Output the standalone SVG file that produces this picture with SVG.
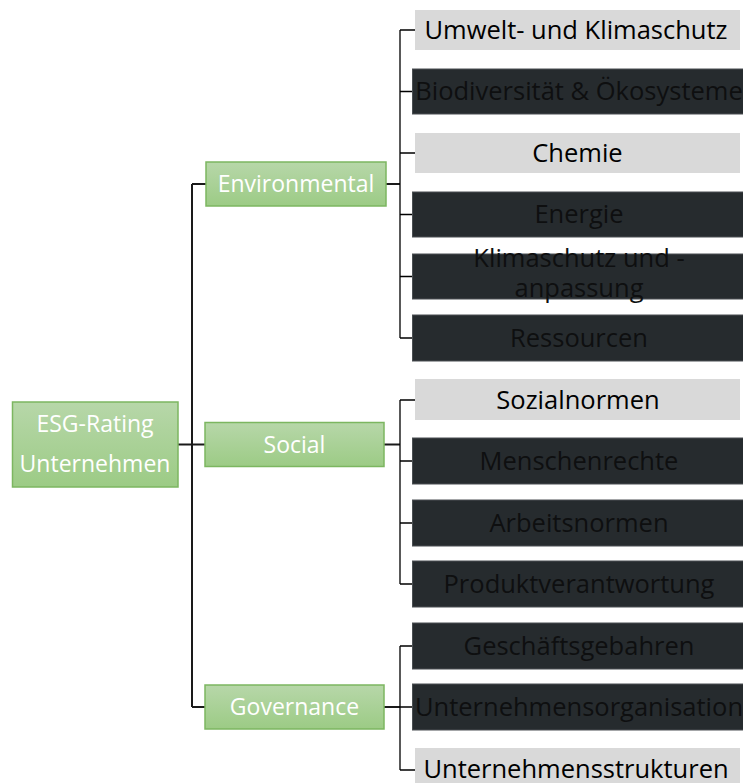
<svg xmlns="http://www.w3.org/2000/svg" width="743" height="783" viewBox="0 0 743 783">
<defs>
<linearGradient id="g" x1="0" y1="0" x2="0" y2="1">
<stop offset="0" stop-color="#b7d7a9"/>
<stop offset="1" stop-color="#9ccb85"/>
</linearGradient>
<style>
.grn{fill:url(#g);stroke:#7cb660;stroke-width:1.5}
.gt{font-family:"Open Sans","Noto Sans",sans-serif;font-size:23px;fill:#fff;text-anchor:middle}
.lt{fill:#d9d9d9}
.dk{fill:#262b2e;stroke:#4a4f52;stroke-width:1}
.ct{font-family:"Open Sans","Noto Sans",sans-serif;font-size:25.5px;fill:#000;text-anchor:middle}
.dt{fill:#0e0f10}
.ln{fill:none;stroke:#000;stroke-width:1.3}
.ln2{fill:none;stroke:#1a1a1a;stroke-width:2}
</style>
</defs>
<rect width="743" height="783" fill="#fff"/>
<g id="connectors">
<path class="ln2" d="M178 444.5H192M192 184V707M192 184H206M192 444.5H205M192 707H205"/>
<path class="ln2" d="M386 184H400M384 444.5H400M384 707H400"/>
<path class="ln" d="M400 30V338M400 30H415M400 91.5H412M400 153H415M400 214.5H412M400 276.5H412M400 338H412"/>
<path class="ln" d="M400 400V584M400 400H415M400 461H412M400 523H412M400 584H412"/>
<path class="ln" d="M400 646V770M400 646H412M400 707H412M400 770H415"/>
</g>
<g id="root"><rect class="grn" x="12.5" y="402" width="165.5" height="85"/><text class="gt" x="95" y="432">ESG-Rating</text><text class="gt" x="95" y="472">Unternehmen</text></g>
<g id="environmental"><rect class="grn" x="206" y="162" width="180" height="44"/><text class="gt" x="296" y="192">Environmental</text></g>
<g id="social"><rect class="grn" x="205" y="422.5" width="179" height="44"/><text class="gt" x="294.5" y="452.5">Social</text></g>
<g id="governance"><rect class="grn" x="205" y="685" width="179" height="44"/><text class="gt" x="294.5" y="715">Governance</text></g>
<g id="umwelt"><rect class="lt" x="415" y="10" width="325" height="40"/><text class="ct" x="576" y="39">Umwelt- und Klimaschutz</text></g>
<g id="biodiversitaet"><rect class="dk" x="412.5" y="69" width="334" height="45"/><text class="ct dt" x="579" y="100">Biodiversität &amp; Ökosysteme</text></g>
<g id="chemie"><rect class="lt" x="415" y="133" width="325" height="40"/><text class="ct" x="577.5" y="162">Chemie</text></g>
<g id="energie"><rect class="dk" x="412.5" y="192" width="334" height="45"/><text class="ct dt" x="579" y="223">Energie</text></g>
<g id="klimaschutz"><rect class="dk" x="412.5" y="254" width="334" height="45"/><text class="ct dt" x="579" y="267">Klimaschutz und -</text><text class="ct dt" x="579" y="297">anpassung</text></g>
<g id="ressourcen"><rect class="dk" x="412.5" y="315" width="334" height="46"/><text class="ct dt" x="579" y="347">Ressourcen</text></g>
<g id="sozialnormen"><rect class="lt" x="415" y="379" width="325" height="41"/><text class="ct" x="578" y="409">Sozialnormen</text></g>
<g id="menschenrechte"><rect class="dk" x="412.5" y="438" width="334" height="46"/><text class="ct dt" x="579" y="470">Menschenrechte</text></g>
<g id="arbeitsnormen"><rect class="dk" x="412.5" y="500" width="334" height="46"/><text class="ct dt" x="579" y="532">Arbeitsnormen</text></g>
<g id="produktverantwortung"><rect class="dk" x="412.5" y="561" width="334" height="46"/><text class="ct dt" x="579" y="593">Produktverantwortung</text></g>
<g id="geschaeftsgebahren"><rect class="dk" x="412.5" y="623" width="334" height="46"/><text class="ct dt" x="579" y="655">Geschäftsgebahren</text></g>
<g id="unternehmensorganisation"><rect class="dk" x="412.5" y="684" width="334" height="46"/><text class="ct dt" x="579" y="716">Unternehmensorganisation</text></g>
<g id="unternehmensstrukturen"><rect class="lt" x="415" y="748" width="325" height="40"/><text class="ct" x="576" y="778">Unternehmensstrukturen</text></g>
</svg>
